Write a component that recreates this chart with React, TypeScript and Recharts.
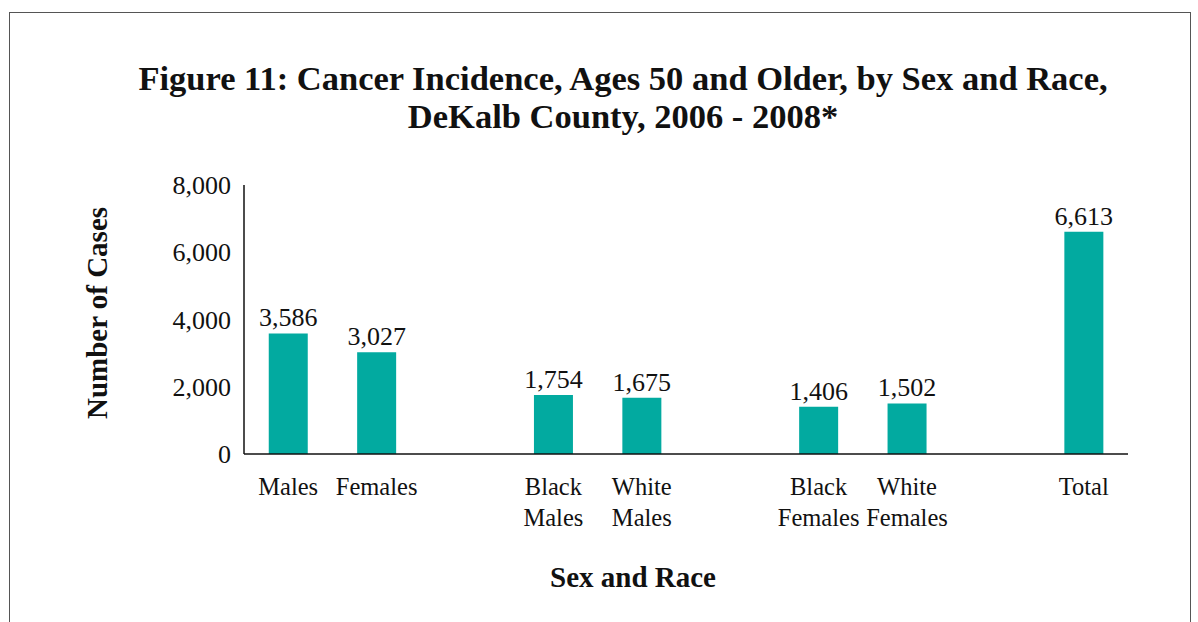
import React from 'react';
import { BarChart, Bar, XAxis, YAxis, LabelList } from 'recharts';

// gaps between groups are kept as empty slots on the category axis
const categories = ['Males', 'Females', 'gap1', 'Black Males', 'White Males', 'gap2', 'Black Females', 'White Females', 'gap3', 'Total'];
const cases: (number | null)[] = [3586, 3027, null, 1754, 1675, null, 1406, 1502, null, 6613];
const yTicks = [0, 2000, 4000, 6000, 8000];

const data = categories.map((c, i) => ({ name: c, cases: cases[i] }));

const serif = '"Liberation Serif", "Times New Roman", serif';
const teal = '#02AAA0';

const CategoryTick = (props: any) => {
  const { x, y, payload } = props;
  const label: string = payload.value;
  if (label.startsWith('gap')) return null;
  const lines = label.split(' ');
  return (
    <text x={x} y={y} textAnchor="middle" style={{ fontFamily: serif, fontSize: 24.5 }} fill="#111">
      {lines.map((ln, i) => (
        <tspan key={i} x={x} dy={i === 0 ? 41 : 31}>{ln}</tspan>
      ))}
    </text>
  );
};

const App: React.FC = () => {
  return (
    <div style={{ position: 'absolute', left: 0, top: 0, width: 1198, height: 622, overflow: 'hidden', background: '#fff' }}>
      <div style={{ position: 'absolute', left: 9, top: 12, width: 1180, height: 700, border: '1.5px solid #555' }} />
      <div
        style={{
          position: 'absolute', left: 0, top: 59, width: 1246, textAlign: 'center',
          fontFamily: serif, fontWeight: 'bold', fontSize: 34.5, lineHeight: '38px', color: '#111'
        }}
      >
        Figure 11: Cancer Incidence, Ages 50 and Older, by Sex and Race,
        <br />
        DeKalb County, 2006 - 2008*
      </div>
      <div
        style={{
          position: 'absolute', left: 97, top: 313, transform: 'translate(-50%, -50%) rotate(-90deg)',
          whiteSpace: 'nowrap', fontFamily: serif, fontWeight: 'bold', fontSize: 29, color: '#111'
        }}
      >
        Number of Cases
      </div>
      <div
        style={{
          position: 'absolute', left: 633, top: 577, transform: 'translate(-50%, -50%)',
          whiteSpace: 'nowrap', fontFamily: serif, fontWeight: 'bold', fontSize: 29, color: '#111'
        }}
      >
        Sex and Race
      </div>
      <div style={{ position: 'absolute', left: 0, top: 0 }}>
        <BarChart
          width={1198}
          height={622}
          data={data}
          margin={{ top: 185, right: 70, bottom: 138, left: 20 }}
          barCategoryGap="28%"
        >
          <XAxis
            dataKey="name"
            interval={0}
            height={30}
            tickLine={false}
            tickSize={0}
            tickMargin={0}
            axisLine={{ stroke: '#111', strokeWidth: 1.5 }}
            tick={<CategoryTick />}
          />
          <YAxis
            width={224}
            domain={[0, 8000]}
            ticks={yTicks}
            tickLine={false}
            tickSize={0}
            tickMargin={13}
            axisLine={{ stroke: '#111', strokeWidth: 1.5 }}
            tick={{ fill: '#111', fontFamily: serif, fontSize: 26 }}
            tickFormatter={(v: number) => v.toLocaleString('en-US')}
          />
          <Bar dataKey="cases" fill={teal} isAnimationActive={false}>
            <LabelList
              dataKey="cases"
              position="top"
              offset={7}
              fill="#111"
              fontFamily={serif}
              fontSize={26}
              formatter={(v: any) => (v == null ? '' : Number(v).toLocaleString('en-US'))}
            />
          </Bar>
        </BarChart>
      </div>
    </div>
  );
};

export default App;
